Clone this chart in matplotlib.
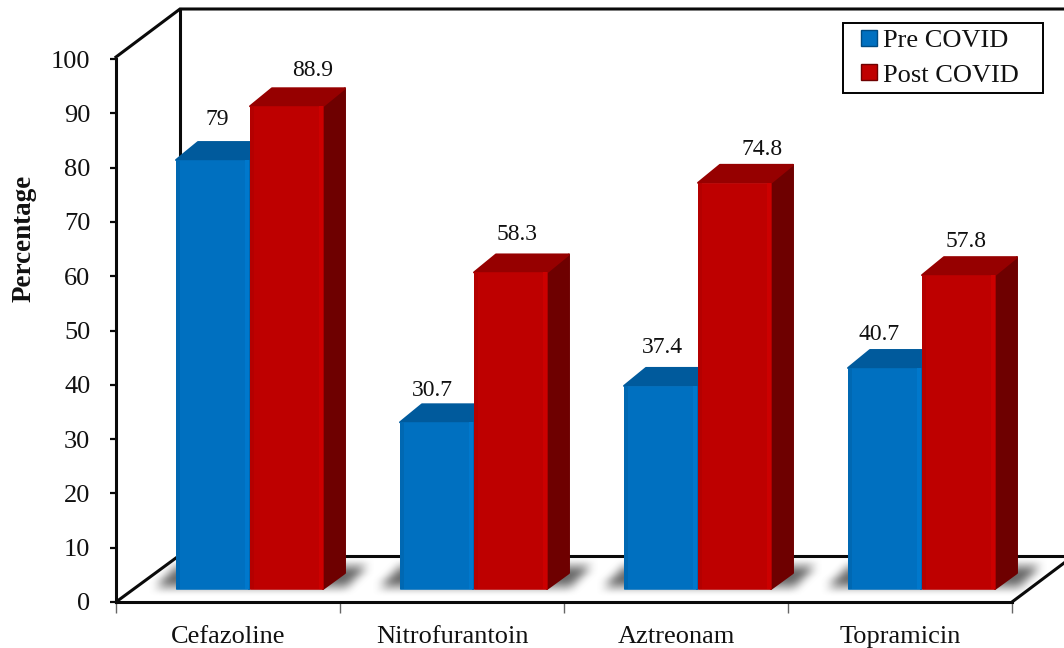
import matplotlib
matplotlib.use("Agg")
import matplotlib.pyplot as plt
import numpy as np
from matplotlib.patches import Polygon, Patch, Rectangle
from matplotlib.lines import Line2D
from matplotlib.legend_handler import HandlerPatch

categories = ["Cefazoline", "Nitrofurantoin", "Aztreonam", "Topramicin"]
pre_covid = [79, 30.7, 37.4, 40.7]
post_covid = [88.9, 58.3, 74.8, 57.8]
y_ticks = list(range(0, 101, 10))

W, H = 1064, 648
plt.rcParams["font.family"] = ["Liberation Serif", "DejaVu Serif"]
TXT = "#111111"

fig = plt.figure(figsize=(W / 100, H / 100), dpi=100, facecolor="white")
# The axes is the front plane of the 3D box: 0-100 on y, one unit per category on x.
AX_L, AX_R, AX_T, AX_B = 116, 1012, 59, 602
ax = fig.add_axes([AX_L / W, 1 - AX_B / H, (AX_R - AX_L) / W, (AX_B - AX_T) / H])
ax.patch.set_visible(False)
for s in ("top", "right"):
    ax.spines[s].set_visible(False)
for s in ("left", "bottom"):
    ax.spines[s].set_linewidth(2.2)
    ax.spines[s].set_color("#0a0a0a")

sx = 4 / (AX_R - AX_L)          # data units per pixel
sy = 100 / (AX_B - AX_T)

def px(x, y):
    """Figure pixel (top-left origin) to data coordinates."""
    return (x - AX_L) * sx, (AX_B - y) * sy

# Back wall and floor outline
def wire(points, lw=2.2):
    xs, ys = zip(*[px(*p) for p in points])
    ax.add_line(Line2D(xs, ys, color="#0a0a0a", lw=lw, clip_on=False, zorder=1,
                       solid_joinstyle="miter"))

wire([(116, 57), (180, 9), (1064, 9)])
wire([(180, 9), (180, 556), (1064, 556)])
wire([(116, 602), (180, 555)])
wire([(1012, 602), (1064, 563)])

# Bar geometry
BAR_W = 73 * sx
GAP_W = 74 * sx
BASE = 13 * sy                  # floor height of the bar feet
DX, DY = 22 * sx, 18 * sy       # depth of the extruded faces
FIRST = 60 * sx                 # gap from category edge to first bar

def blur(a, n):
    kernel = np.ones(n) / n
    a = np.apply_along_axis(lambda r: np.convolve(r, kernel, mode="same"), 0, a)
    return np.apply_along_axis(lambda r: np.convolve(r, kernel, mode="same"), 1, a)

def floor_shadow(group):
    """Soft parallelogram of shadow on the floor, slanted along the box depth."""
    left_px = AX_L + group * 224 + 36
    right_px = left_px + 192
    y0, y1 = 545, 602
    x0, x1 = left_px - 40, right_px + 70
    yy, xx = np.mgrid[y0:y1, x0:x1] + 0.5
    lean = (590 - yy) * 1.0
    mask = ((yy > 566) & (yy < 587) & (xx > left_px + lean) & (xx < right_px + lean)).astype(float)
    mask = blur(blur(mask, 13), 7)
    rgba = np.zeros(mask.shape + (4,))
    rgba[..., :3] = 0.42
    rgba[..., 3] = np.clip(mask * 1.0, 0, 1)
    (ex0, ey1), (ex1, ey0) = px(x0, y0), px(x1, y1)
    ax.imshow(rgba, extent=(ex0, ex1, ey0, ey1), origin="upper", aspect="auto",
              interpolation="bilinear", zorder=2, clip_on=False)

def draw_bar(x, value, front, top, side, edge_light, edge_dark, z):
    h_top = BASE + value
    round_edge = dict(lw=1.4, joinstyle="round", clip_on=False)
    ax.add_patch(Polygon([(x + BAR_W, BASE), (x + BAR_W + DX, BASE + DY - 2 * sy),
                          (x + BAR_W + DX, h_top + DY), (x + BAR_W, h_top)],
                         fc=side, ec=side, zorder=z, **round_edge))
    ax.add_patch(Polygon([(x, h_top), (x + DX, h_top + DY),
                          (x + BAR_W + DX, h_top + DY), (x + BAR_W, h_top)],
                         fc=top, ec=top, zorder=z, **round_edge))
    ax.bar(x, value, BAR_W, bottom=BASE, align="edge", color=front, zorder=z + 0.1, clip_on=False,
           edgecolor=front, linewidth=0.4)
    # thin shaded strips along the vertical edges give the bevelled look
    strip = 4 * sx
    ax.bar(x, value, strip, bottom=BASE, align="edge", color=edge_dark, zorder=z + 0.2, clip_on=False)
    ax.bar(x + BAR_W - strip, value, strip, bottom=BASE, align="edge", color=edge_light,
           zorder=z + 0.2, clip_on=False)

for i, (a, b) in enumerate(zip(pre_covid, post_covid)):
    x0 = i + FIRST
    floor_shadow(i)
    draw_bar(x0, a, "#0070C0", "#005A9C", "#004A80", "#0078CC", "#0068B2", 3 + i)
    draw_bar(x0 + GAP_W, b, "#BE0000", "#960000", "#6E0000", "#CC0000", "#B40000", 3.5 + i)

ax.set_xlim(0, 4)
ax.set_ylim(0, 100)

# Value labels, each nudged by hand clear of its bar top
pre_offsets = [(5, 41), (-4, 32), (2, 38), (-5, 33)]
post_offsets = [(26, 36), (7, 38), (28, 33), (8, 34)]
for i, (a, b) in enumerate(zip(pre_covid, post_covid)):
    x0 = i + FIRST
    for val, xc, off in ((a, x0 + BAR_W / 2, pre_offsets[i]),
                         (b, x0 + GAP_W + BAR_W / 2, post_offsets[i])):
        ax.annotate(f"{val:g}", (xc, BASE + val), xytext=off, textcoords="offset pixels",
                    ha="center", va="center", fontsize=17, color=TXT,
                    annotation_clip=False, zorder=20)

# Axis ticks and labels
ax.set_yticks(y_ticks)
ax.tick_params(axis="y", length=4.5, width=1.6, pad=14, labelsize=19, labelcolor=TXT, color="#0a0a0a")
ax.set_xticks(range(5))
ax.set_xticklabels([""] * 5)
ax.tick_params(axis="x", which="major", length=8, width=1, color="#666666")
ax.set_xticks([i + 0.5 for i in range(4)], minor=True)
ax.set_xticklabels(categories, minor=True, fontsize=19, color=TXT)
ax.tick_params(axis="x", which="minor", length=0, pad=17)
fig.text(24 / W, 1 - 238 / H, "Percentage", rotation=90, ha="center", va="center",
         fontsize=19.5, fontweight="bold", color=TXT)

# Legend: swatches sit at the right end of a wider handle box, leaving a left margin
def inset_swatch(legend, orig_handle, xdescent, ydescent, width, height, fontsize):
    side = height * 1.0
    return Rectangle((width - side - xdescent, -ydescent), side, side)

handles = [Patch(fc="#0070C0", ec="#004A80", lw=1), Patch(fc="#C00000", ec="#6E0000", lw=1)]
leg = ax.legend(handles, ["Pre COVID", "Post COVID"], loc="upper left",
                bbox_to_anchor=((843 - AX_L) / (AX_R - AX_L), (AX_B - 92) / (AX_B - AX_T),
                                200 / (AX_R - AX_L), 69 / (AX_B - AX_T)),
                bbox_transform=ax.transAxes, borderaxespad=0, mode="expand", frameon=True,
                fancybox=False, framealpha=1, edgecolor="black", fontsize=19, handlelength=1.04,
                handleheight=0.58, handletextpad=0.23, labelspacing=0.45, borderpad=0.25,
                labelcolor=TXT, handler_map={Patch: HandlerPatch(patch_func=inset_swatch)})
leg.get_frame().set_linewidth(1.4)
leg.set_zorder(30)

fig.savefig("out.png", dpi=100, facecolor="white")
